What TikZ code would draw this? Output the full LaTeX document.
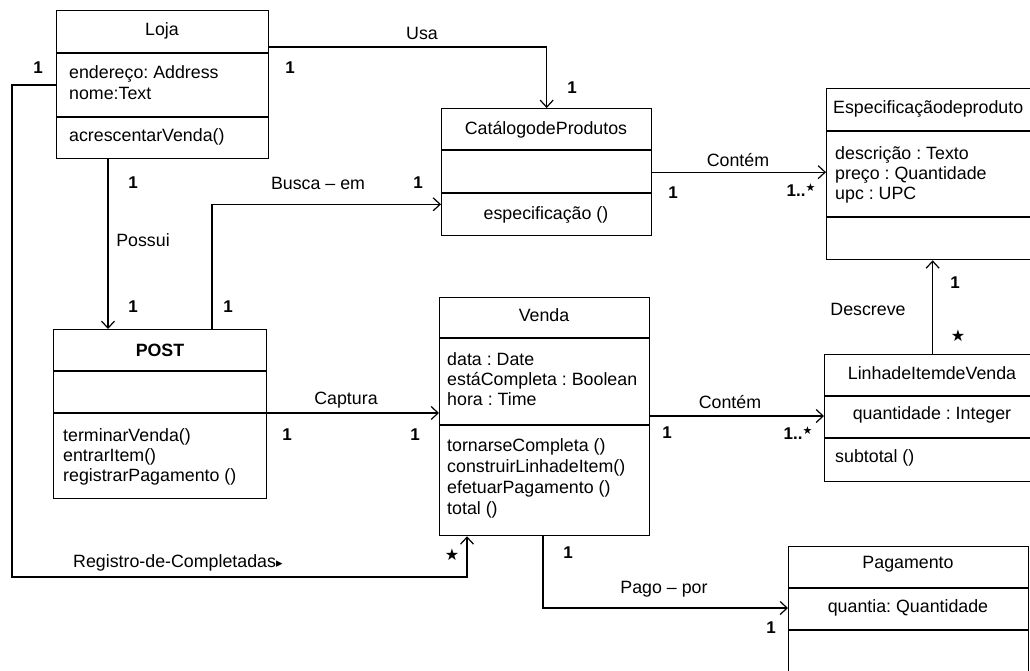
\documentclass[tikz,border=0pt]{standalone}
\usepackage{fontspec}
\setmainfont{Liberation Sans}
\newfontfamily\symfont{DejaVu Sans}
\usetikzlibrary{arrows.meta,calc}
\frenchspacing

\tikzset{
  cls/.style={draw, line width=1.3pt, rectangle, inner sep=0pt, anchor=north west},
  sep/.style={line width=1.2pt},
  assoc/.style={line width=1.2pt},
  navig/.style={assoc, -{Straight Barb[length=7pt,width=13pt,line width=1.2pt]}},
  txt/.style={inner sep=0pt, font=\fontsize{17.8}{21}\selectfont},
  lft/.style={txt, anchor=west, align=left},
  mult/.style={txt, font=\fontsize{17}{21}\selectfont\bfseries},
}
\newcommand{\manystar}{{\symfont\fontsize{16}{16}\selectfont ★}}
\newcommand{\oneormany}{1..\raisebox{0.55ex}{{\symfont\fontsize{11}{11}\selectfont ★}}}

\begin{document}
\begin{tikzpicture}[x=1pt, y=-1pt]
\path[use as bounding box, clip] (0,0) rectangle (1030,670);
\fill[white] (0,0) rectangle (1030,670);

% ---------- classes ----------
\node[cls, minimum width=212pt, minimum height=148pt] (loja) at (56,10) {};
\draw[sep] ($(loja.north west)+(0,43)$) -- ($(loja.north east)+(0,43)$);
\draw[sep] ($(loja.north west)+(0,107)$) -- ($(loja.north east)+(0,107)$);
\node[txt] (lojaT) at (162,31) {Loja};
\node[lft] (lojaA) at (69,83) {endereço: Address\\nome:Text};
\node[lft] (lojaM) at (69,137) {acrescentarVenda()};

\node[cls, minimum width=210pt, minimum height=127pt] (cat) at (441,108) {};
\draw[sep] ($(cat.north west)+(0,42)$) -- ($(cat.north east)+(0,42)$);
\draw[sep] ($(cat.north west)+(0,85)$) -- ($(cat.north east)+(0,85)$);
\node[txt] (catT) at (546,130) {CatálogodeProdutos};
\node[txt] (catM) at (546,215) {especificação ()};

\node[cls, minimum width=230pt, minimum height=171pt] (esp) at (826,88) {};
\draw[sep] ($(esp.north west)+(0,43)$) -- ($(esp.north east)+(0,43)$);
\draw[sep] ($(esp.north west)+(0,129)$) -- ($(esp.north east)+(0,129)$);
\node[lft] (espT) at (833,109) {Especificaçãodeproduto};
\node[lft, font=\fontsize{17.8}{20}\selectfont] (espA) at (835,175) {descrição : Texto\\preço : Quantidade\\upc : UPC};

\node[cls, minimum width=213pt, minimum height=169pt] (post) at (53,329) {};
\draw[sep] ($(post.north west)+(0,42)$) -- ($(post.north east)+(0,42)$);
\draw[sep] ($(post.north west)+(0,84)$) -- ($(post.north east)+(0,84)$);
\node[txt, font=\fontsize{17.8}{21}\selectfont\bfseries] (postT) at (160,350) {POST};
\node[lft, font=\fontsize{17.8}{20}\selectfont] (postM) at (63,457) {terminarVenda()\\entrarItem()\\registrarPagamento ()};

\node[cls, minimum width=210pt, minimum height=238pt] (venda) at (439,297) {};
\draw[sep] ($(venda.north west)+(0,41)$) -- ($(venda.north east)+(0,41)$);
\draw[sep] ($(venda.north west)+(0,128)$) -- ($(venda.north east)+(0,128)$);
\node[txt] (vendaT) at (544,315) {Venda};
\node[lft, font=\fontsize{17.8}{20}\selectfont] (vendaA) at (447,379) {data : Date\\estáCompleta : Boolean\\hora : Time};
\node[lft] (vendaM) at (447,478) {tornarseCompleta ()\\construirLinhadeItem()\\efetuarPagamento ()\\total ()};

\node[cls, minimum width=216pt, minimum height=127pt] (linha) at (824,354) {};
\draw[sep] ($(linha.north west)+(0,42)$) -- ($(linha.north east)+(0,42)$);
\draw[sep] ($(linha.north west)+(0,84)$) -- ($(linha.north east)+(0,84)$);
\node[txt] (linhaT) at (932,373) {LinhadeItemdeVenda};
\node[txt] (linhaA) at (932,415) {quantidade : Integer};
\node[lft] (linhaM) at (835,458) {subtotal ()};

\node[cls, minimum width=240pt, minimum height=150pt] (pag) at (788,546) {};
\draw[sep] ($(pag.north west)+(0,42)$) -- ($(pag.north east)+(0,42)$);
\draw[sep] ($(pag.north west)+(0,84)$) -- ($(pag.north east)+(0,84)$);
\node[txt] (pagT) at (908,564) {Pagamento};
\node[txt] (pagA) at (908,608) {quantia: Quantidade};

% ---------- associations ----------
% Loja uses the product catalogue
\draw[navig] ($(loja.north east)+(0,37)$) -| (cat.north);
\node[txt] (usaL) at (422,33) {Usa};
\node[mult] (usa1) at (290,68) {1};
\node[mult] (usa2) at (572,88) {1};

% catalogue contains specifications
\draw[navig] (cat.east) -- (cat.east -| esp.west);
\node[txt] (cont1L) at (738,160) {Contém};
\node[mult] (cont1a) at (673,193) {1};
\node[mult] (cont1b) at (801,190) {\oneormany};

% Loja owns POST
\draw[navig] ($(loja.south west)+(52,0)$) -- ($(post.north west)+(55,0)$);
\node[mult] (pos1) at (133,183) {1};
\node[txt] (posL) at (143,240) {Possui};
\node[mult] (pos2) at (133,307) {1};

% POST looks up in the catalogue
\draw[navig] ($(post.north west)+(159,0)$) |- ($(cat.south west)+(0,-32)$);
\node[txt] (buscaL) at (318,183) {Busca -- em};
\node[mult] (busca1) at (228,307) {1};
\node[mult] (busca2) at (418,183) {1};

% POST captures a sale
\draw[navig] ($(post.north east)+(0,84)$) -- ($(venda.north west)+(0,116)$);
\node[txt] (capL) at (346,400) {Captura};
\node[mult] (cap1) at (287,435) {1};
\node[mult] (cap2) at (415,435) {1};

% sale contains line items
\draw[navig] ($(venda.north east)+(0,119)$) -- ($(linha.north west)+(0,62)$);
\node[txt] (cont2L) at (730,402) {Contém};
\node[mult] (cont2a) at (667,433) {1};
\node[mult] (cont2b) at (798,433) {\oneormany};

% line item described by specification
\draw[navig] (linha.north) -- (linha.north |- esp.south);
\node[txt] (descL) at (868,309) {Descreve};
\node[mult] (desc1) at (955,283) {1};
\node[mult] (desc2) at (958,336) {\manystar};

% completed sales logged by Loja
\coordinate (regCorner) at (12,577);
\draw[navig] ($(loja.north west)+(0,75)$) -| (regCorner) -| ($(venda.south west)+(28,0)$);
\node[mult] (reg1) at (38,68) {1};
\node[lft] (regL) at (73,563) {Registro-de-Completadas{\symfont\fontsize{13}{13}\selectfont ▸}};
\node[mult] (reg2) at (452,555) {\manystar};

% sale paid by payment
\draw[navig] ($(venda.south west)+(104,0)$) |- ($(pag.north west)+(0,62)$);
\node[mult] (pago1) at (568,553) {1};
\node[txt] (pagoL) at (664,589) {Pago -- por};
\node[mult] (pago2) at (771,628) {1};
\end{tikzpicture}
\end{document}
